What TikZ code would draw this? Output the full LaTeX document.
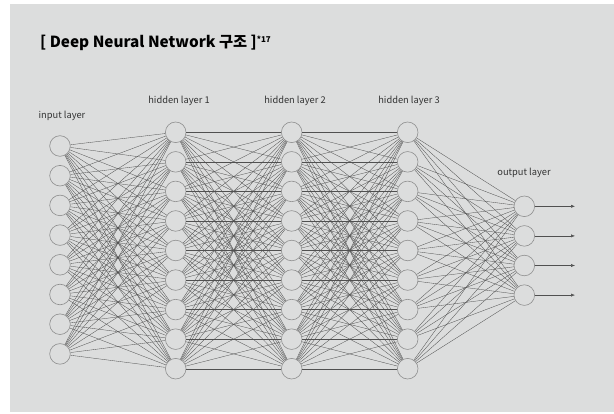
\documentclass[tikz,border=0pt]{standalone}
\usepackage{fontspec}
\setmainfont{Noto Sans CJK KR}
\usetikzlibrary{arrows.meta}
\definecolor{bg}{HTML}{DCDDDD}
\definecolor{edgec}{HTML}{505050}
\definecolor{ringc}{HTML}{8E8E8E}
\definecolor{textc}{HTML}{333333}
\begin{document}
\begin{tikzpicture}[x=1pt,y=-1pt,
  neuron/.style={circle,draw=ringc,line width=0.6pt,minimum size=20.6pt,inner sep=0pt},
  link/.style={draw=edgec,line width=0.32pt},
  lbl/.style={font=\fontsize{9.3}{11}\selectfont,text=textc,inner sep=0pt},
  outarrow/.style={draw=edgec,line width=0.5pt,-{Latex[length=4pt,width=3.2pt]}}]
\useasboundingbox (0,0) rectangle (614,414);
\fill[bg] (10,4) rectangle (614,412);
% title
\node[anchor=base west,inner sep=0pt,text=black,font=\fontsize{15.3}{17}\selectfont\bfseries] (title) at (40,48)
  {[ Deep Neural Network 구조 ]\raisebox{5.5pt}{\fontsize{8}{9}\selectfont *17}};
% labels
\node[lbl] (linput) at (62,116) {input layer};
\node[lbl] (lh1) at (179,101) {hidden layer 1};
\node[lbl] (lh2) at (295,101) {hidden layer 2};
\node[lbl] (lh3) at (409,101) {hidden layer 3};
\node[lbl] (lout) at (524,173) {output layer};
% nodes
\foreach \k in {0,...,7} \node[neuron] (i\k) at (60,146+29.7*\k) {};
\foreach \k in {0,...,8} {
  \node[neuron] (a\k) at (175.7,132.3+29.55*\k) {};
  \node[neuron] (b\k) at (291.7,132.3+29.55*\k) {};
  \node[neuron] (c\k) at (407.7,132.3+29.55*\k) {};
}
\foreach \k in {0,...,3} \node[neuron] (o\k) at (524.3,206.3+29.6*\k) {};
% connections
\foreach \p in {0,...,7} \foreach \q in {0,...,8} \path[link] (i\p) -- (a\q);
\foreach \p in {0,...,8} \foreach \q in {0,...,8} {
  \path[link] (a\p) -- (b\q);
  \path[link] (b\p) -- (c\q);
}
\foreach \p in {0,...,8} \foreach \q in {0,...,3} \path[link] (c\p) -- (o\q);
% outputs
\foreach \k in {0,...,3} {
  \coordinate (e\k) at (575,206.3+29.6*\k);
  \draw[outarrow] (o\k) -- (e\k);
}
\end{tikzpicture}
\end{document}
